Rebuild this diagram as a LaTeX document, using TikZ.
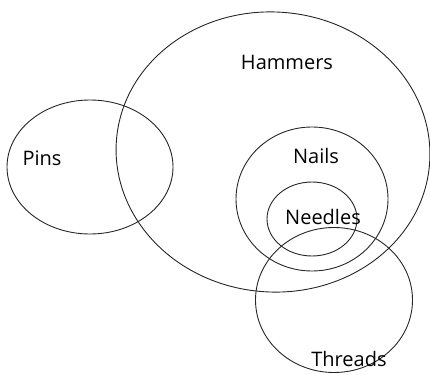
\documentclass[tikz,border=0pt]{standalone}
\usepackage{fontspec}
\setmainfont{Open Sans}
\usetikzlibrary{shapes.geometric}
\begin{document}
\begin{tikzpicture}[x=1pt,y=-1pt,
  setshape/.style={draw=black!85,line width=0.9pt,ellipse,inner sep=0pt},
  lbl/.style={font=\fontsize{20}{22}\selectfont,text=black,inner sep=0pt}]
\useasboundingbox (0,0) rectangle (430,374);
\node[setshape,minimum width=314pt,minimum height=280pt,rotate=-4] (hammers) at (273,152) {};
\node[setshape,minimum width=166pt,minimum height=134pt] (pins) at (90,167) {};
\node[setshape,minimum width=152pt,minimum height=144pt] (nails) at (312,199) {};
\node[setshape,minimum width=90pt,minimum height=74pt] (needles) at (312,219) {};
\node[setshape,minimum width=157pt,minimum height=145pt] (threads) at (334,300) {};
\node[lbl] (thammers) at (287,62) {Hammers};
\node[lbl] (tpins) at (42,158) {Pins};
\node[lbl] (tnails) at (316,156) {Nails};
\node[lbl] (tneedles) at (323,217) {Needles};
\node[lbl] (tthreads) at (349,359) {Threads};
\end{tikzpicture}
\end{document}
